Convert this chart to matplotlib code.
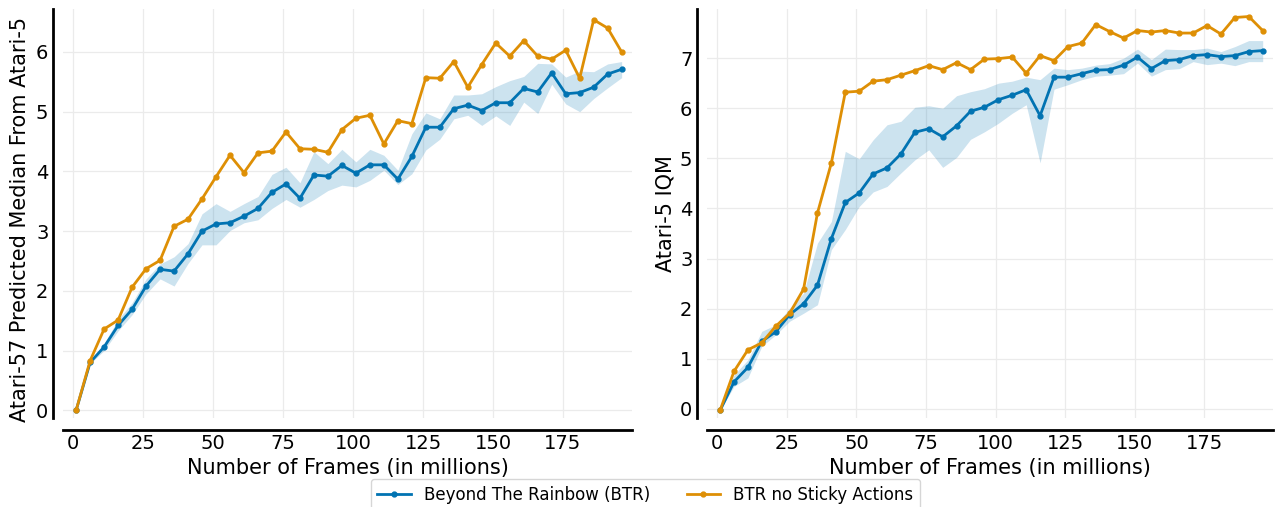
import numpy as np
import matplotlib
matplotlib.use('Agg')
import matplotlib.pyplot as plt

# frames (millions) at which each eval was taken
frames = np.arange(1, 200, 5)

# Left panel: Atari-57 predicted median from Atari-5
btr_med = [0.00, 0.80, 1.06, 1.42, 1.69, 2.08, 2.36, 2.33, 2.62, 3.00,
           3.12, 3.14, 3.25, 3.38, 3.65, 3.79, 3.55, 3.94, 3.92, 4.10,
           3.97, 4.11, 4.11, 3.87, 4.25, 4.74, 4.74, 5.05, 5.11, 5.02,
           5.15, 5.15, 5.39, 5.33, 5.65, 5.30, 5.32, 5.41, 5.63, 5.71]
btr_med_lo = [0.00, 0.78, 1.00, 1.33, 1.60, 1.95, 2.20, 2.08, 2.46, 2.77,
              2.77, 3.01, 3.14, 3.19, 3.38, 3.53, 3.40, 3.53, 3.68, 3.77,
              3.74, 3.85, 4.02, 3.78, 3.96, 4.36, 4.54, 4.88, 4.94, 4.77,
              4.93, 4.77, 5.16, 4.97, 5.46, 5.13, 5.00, 5.22, 5.40, 5.57]
btr_med_hi = [0.00, 0.84, 1.12, 1.52, 1.80, 2.20, 2.45, 2.57, 2.79, 3.29,
              3.46, 3.33, 3.46, 3.58, 3.95, 4.07, 3.81, 4.33, 4.13, 4.37,
              4.16, 4.37, 4.27, 4.02, 4.63, 4.98, 4.88, 5.28, 5.28, 5.30,
              5.42, 5.52, 5.59, 5.81, 5.80, 5.58, 5.68, 5.67, 5.80, 5.84]
nosticky_med = [0.00, 0.83, 1.36, 1.51, 2.06, 2.37, 2.51, 3.08, 3.20, 3.54,
                3.91, 4.27, 3.98, 4.31, 4.34, 4.66, 4.38, 4.37, 4.32, 4.70,
                4.89, 4.94, 4.46, 4.85, 4.80, 5.57, 5.56, 5.84, 5.41, 5.79,
                6.15, 5.93, 6.19, 5.93, 5.88, 6.03, 5.56, 6.54, 6.40, 6.00]

# Right panel: Atari-5 IQM
btr_iqm = [-0.03, 0.54, 0.83, 1.35, 1.54, 1.88, 2.10, 2.47, 3.40, 4.12,
           4.31, 4.69, 4.81, 5.09, 5.52, 5.59, 5.43, 5.65, 5.94, 6.02,
           6.17, 6.26, 6.37, 5.85, 6.62, 6.62, 6.69, 6.76, 6.77, 6.86,
           7.02, 6.79, 6.95, 6.97, 7.05, 7.07, 7.03, 7.05, 7.13, 7.15]
btr_iqm_lo = [-0.03, 0.45, 0.62, 1.25, 1.48, 1.75, 1.91, 2.08, 3.18, 3.58,
              4.04, 4.33, 4.44, 4.71, 4.97, 5.17, 4.82, 5.02, 5.38, 5.53,
              5.70, 5.90, 6.07, 4.91, 6.38, 6.47, 6.57, 6.64, 6.66, 6.69,
              6.90, 6.64, 6.77, 6.79, 6.93, 6.87, 6.90, 6.85, 6.93, 6.93]
btr_iqm_hi = [-0.03, 0.68, 0.98, 1.55, 1.68, 2.01, 2.31, 3.31, 3.74, 5.14,
              4.99, 5.37, 5.67, 5.74, 6.02, 6.05, 6.00, 6.25, 6.33, 6.39,
              6.50, 6.54, 6.62, 6.57, 6.80, 6.77, 6.80, 6.86, 6.89, 7.00,
              7.18, 6.97, 7.18, 7.17, 7.17, 7.20, 7.13, 7.23, 7.35, 7.35]
nosticky_iqm = [-0.03, 0.75, 1.18, 1.32, 1.65, 1.91, 2.39, 3.91, 4.91, 6.32,
                6.34, 6.54, 6.57, 6.66, 6.75, 6.85, 6.77, 6.91, 6.77, 6.98,
                6.99, 7.02, 6.70, 7.05, 6.95, 7.23, 7.30, 7.67, 7.53, 7.40,
                7.55, 7.52, 7.55, 7.50, 7.50, 7.65, 7.48, 7.81, 7.83, 7.55]

blue = '#0173b2'
orange = '#de8f05'

fig = plt.figure(figsize=(12.78, 5.07), dpi=100)
W, H = 1278, 507
ax1 = fig.add_axes([63 / W, 1 - 418 / H, (632 - 63) / W, (418 - 9) / H])
ax2 = fig.add_axes([707 / W, 1 - 418 / H, (1273 - 707) / W, (418 - 9) / H])


def draw_panel(ax, med, lo, hi, other, ylabel, ylim, yticks):
    ax.fill_between(frames, lo, hi, color=blue, alpha=0.2, linewidth=0)
    ax.plot(frames, med, color=blue, lw=2, marker='o', ms=3.5,
            label='Beyond The Rainbow (BTR)')
    ax.plot(frames, other, color=orange, lw=2, marker='o', ms=3.5,
            label='BTR no Sticky Actions')
    ax.set_xlim(-3.7, 199.7)
    ax.set_ylim(*ylim)
    ax.set_xticks([0, 25, 50, 75, 100, 125, 150, 175])
    ax.set_yticks(yticks)
    ax.grid(True, color='#ebebeb', lw=0.9)
    ax.set_axisbelow(True)
    for s in ['top', 'right']:
        ax.spines[s].set_visible(False)
    ax.spines['left'].set_position(('outward', 7.5))
    ax.spines['bottom'].set_position(('outward', 8.8))
    for s in ['left', 'bottom']:
        ax.spines[s].set_linewidth(2)
        ax.spines[s].set_color('black')
    ax.tick_params(axis='x', length=0, labelsize=14, pad=3)
    ax.tick_params(axis='y', length=0, labelsize=14, pad=3)
    ax.set_xlabel('Number of Frames (in millions)', fontsize=15, labelpad=3)
    ax.set_ylabel(ylabel, fontsize=15, labelpad=3)


draw_panel(ax1, btr_med, btr_med_lo, btr_med_hi, nosticky_med,
           'Atari-57 Predicted Median From Atari-5', (-0.13, 6.72), range(0, 7))
draw_panel(ax2, btr_iqm, btr_iqm_lo, btr_iqm_hi, nosticky_iqm,
           'Atari-5 IQM', (-0.18, 7.98), range(0, 8))

# long label sits low, gets cut at the top like the original
ax1.yaxis.set_label_coords(-0.075, 0.485)
ax1.yaxis.label.set_va('center')

handles, labels = ax1.get_legend_handles_labels()
fig.legend(handles, labels, loc='upper center', bbox_to_anchor=(0.505, 1 - 479 / H),
           ncol=2, fontsize=12, frameon=True, columnspacing=2.2,
           borderaxespad=0)

fig.savefig('out.png', dpi=100)
